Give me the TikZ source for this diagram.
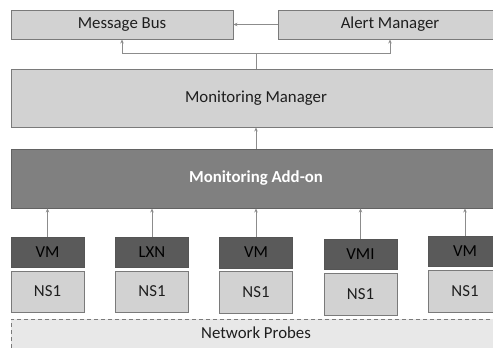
\documentclass[tikz,border=0pt]{standalone}
\usepackage{fontspec}
\setmainfont{Carlito}
\usetikzlibrary{arrows.meta}
\definecolor{lightbox}{HTML}{D2D2D2}
\definecolor{boxline}{HTML}{7A7A7A}
\definecolor{addon}{HTML}{808080}
\definecolor{vmfill}{HTML}{5A5A5A}
\definecolor{probe}{HTML}{E8E8E8}
\definecolor{conn}{HTML}{8C8C8C}
\definecolor{txt}{HTML}{1E1E1E}
\newcommand{\diafont}{\fontsize{16.8}{19}\selectfont}
\tikzset{
  lbox/.style={draw=boxline, fill=lightbox, line width=0.9pt, rectangle, inner sep=0pt,
    text=txt, font=\diafont},
  addonbox/.style={draw=boxline!80!black, fill=addon, line width=0.9pt, rectangle, inner sep=0pt,
    text=white, font=\diafont\bfseries},
  vmbox/.style={draw=boxline!70!black, fill=vmfill, line width=0.9pt, rectangle, inner sep=0pt,
    minimum width=73pt, minimum height=30pt, text=black, font=\diafont},
  nsbox/.style={lbox, minimum width=73pt, minimum height=41pt},
  probebox/.style={draw=boxline, fill=probe, dashed, dash pattern=on 4pt off 3pt, line width=0.8pt,
    rectangle, inner sep=0pt, text=txt, font=\diafont},
  conn/.style={draw=conn, line width=1pt, -{Stealth[length=4pt,width=3.5pt]}},
  connl/.style={draw=conn, line width=1pt},
}
\begin{document}
\begin{tikzpicture}[x=1pt,y=-1pt]
\useasboundingbox (0,0) rectangle (493,348);
\clip (0,0) rectangle (493,348);
% top row
\node[lbox, minimum width=222pt, minimum height=29pt] (mb) at (122,24.5) {Message Bus};
\node[lbox, minimum width=224pt, minimum height=29pt] (am) at (390,24.5) {Alert Manager};
% managers
\node[lbox, minimum width=490pt, minimum height=58pt] (mm) at (256,98) {Monitoring Manager};
\node[addonbox, minimum width=490pt, minimum height=59pt] (ao) at (256,178.5) {Monitoring Add-on};
% VM / NS columns
\node[vmbox] (vm1) at (47.5,252) {VM};
\node[nsbox] (ns1) at (47.5,291.5) {NS1};
\node[vmbox] (vm2) at (152,252) {LXN};
\node[nsbox] (ns2) at (152,291.5) {NS1};
\node[vmbox, minimum height=31pt] (vm3) at (256,252.5) {VM};
\node[nsbox, minimum height=42pt] (ns3) at (256,292) {NS1};
\node[vmbox] (vm4) at (360.5,254.5) {VMI};
\node[nsbox, minimum height=42pt] (ns4) at (360.5,294) {NS1};
\node[vmbox] (vm5) at (465,251.5) {VM};
\node[nsbox, minimum height=42pt] (ns5) at (465,291) {NS1};
% probes
\node[probebox, minimum width=490pt, minimum height=38pt] (np) at (256,338) {};
\node[text=txt, font=\diafont] (npl) at (256,333) {Network Probes};
% connectors
\draw[conn] (am.west) -- (mb.east);
\coordinate (j) at (256,53);
\draw[connl] (mm.north) -- (j);
\draw[conn] (j) -| (mb.south);
\draw[conn] (j) -| (am.south);
\draw[conn] (ao.north) -- (mm.south);
\foreach \i in {1,...,5}{
  \draw[conn] (vm\i.north) -- (vm\i.north |- ao.south);
}
\end{tikzpicture}
\end{document}
